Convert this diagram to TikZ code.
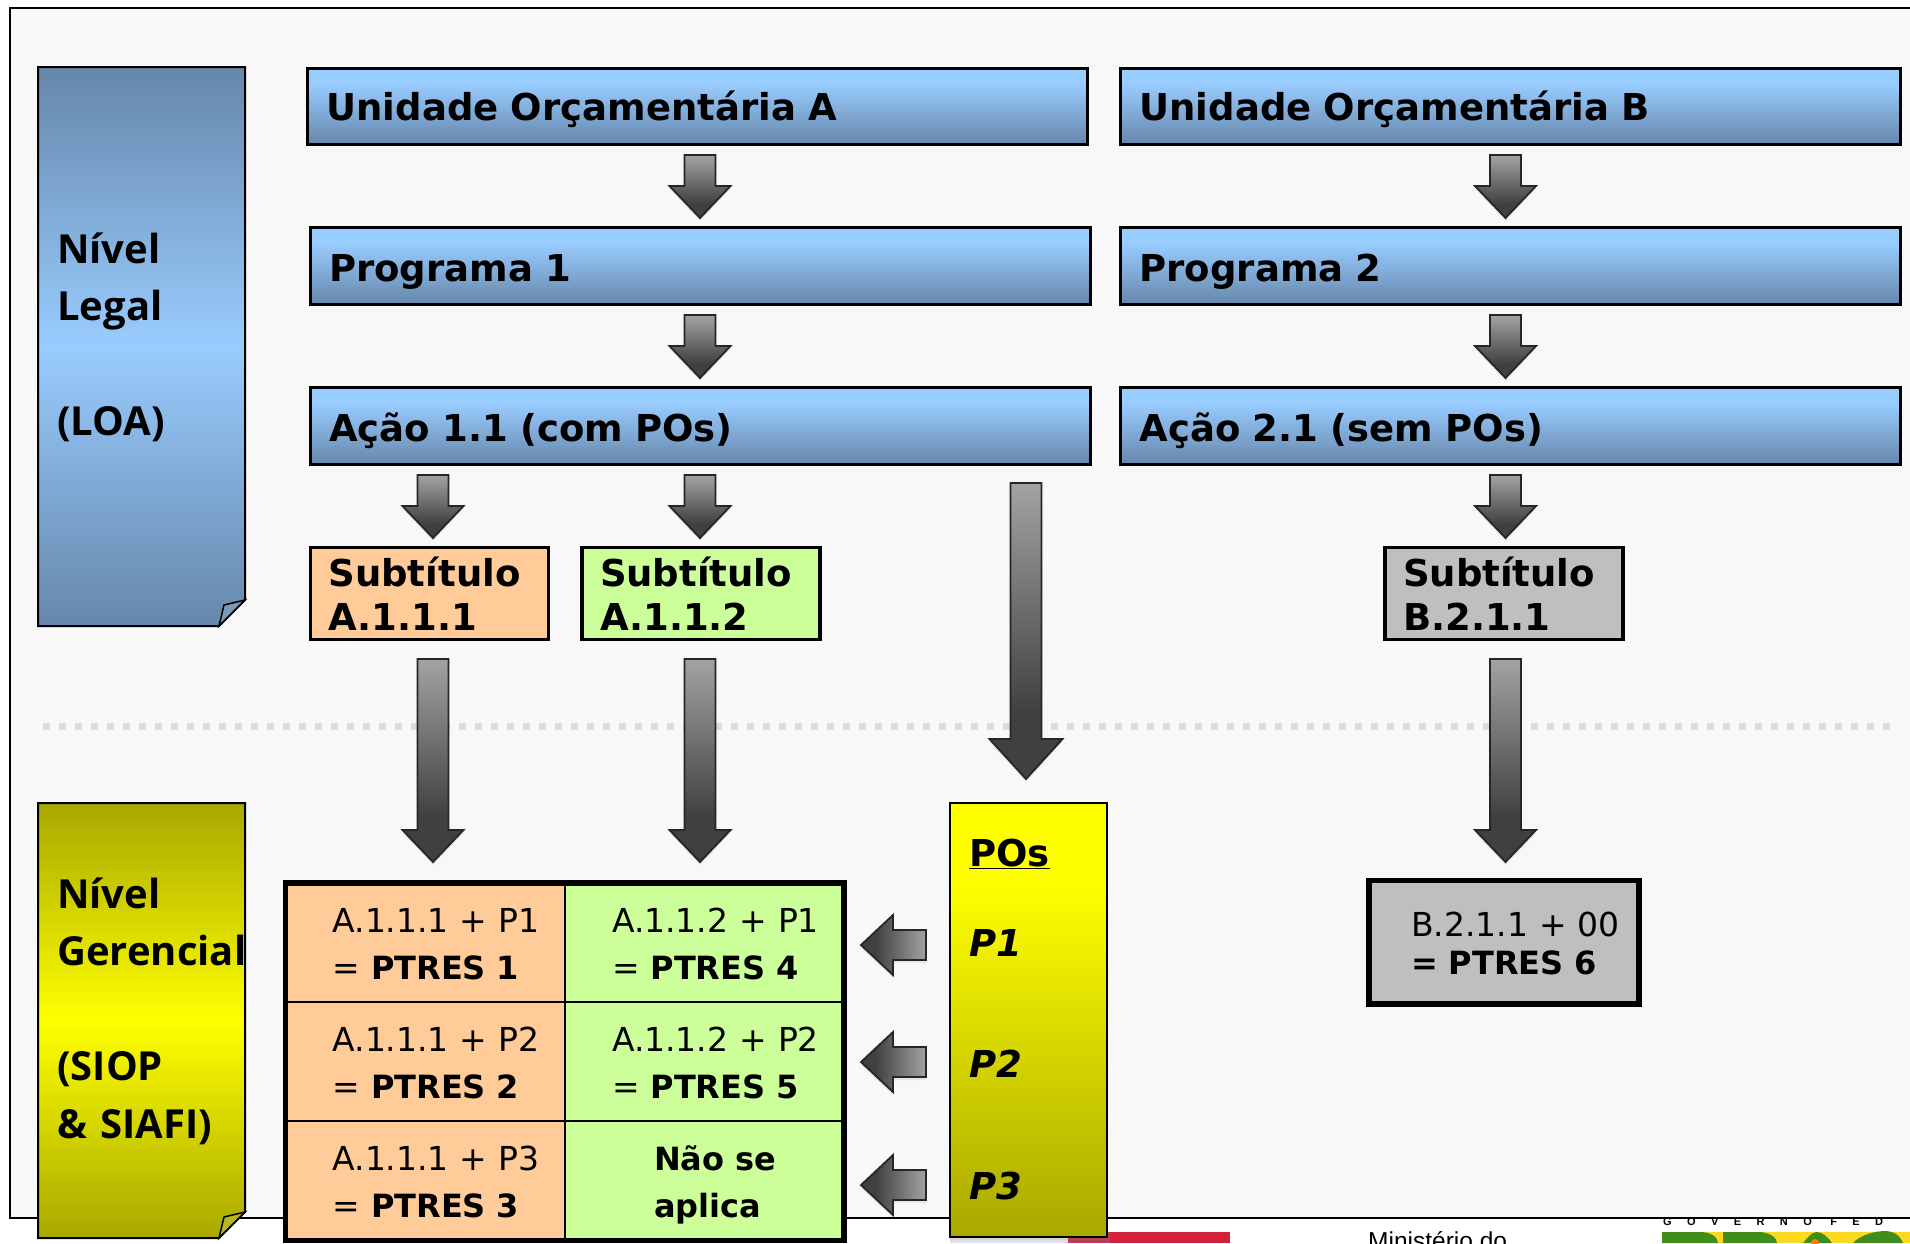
\documentclass[tikz,border=0pt]{standalone}
\usepackage{fontspec}
\setmainfont{DejaVu Sans}
\newfontfamily\notefont{Open Sans}
\newfontfamily\logofont{Liberation Sans}
\usetikzlibrary{calc, shadows}

\pgfdeclareverticalshading{boxfill}{100bp}{rgb(0bp)=(0.40,0.53,0.67);rgb(25bp)=(0.40,0.53,0.67);rgb(65bp)=(0.60,0.80,1);rgb(100bp)=(0.60,0.80,1)}
\pgfdeclareverticalshading{pofill}{100bp}{rgb(0bp)=(0.66,0.66,0);rgb(25bp)=(0.66,0.66,0);rgb(66bp)=(1,1,0);rgb(100bp)=(1,1,0)}
\pgfdeclareverticalshading{arrowfill}{100bp}{rgb(0bp)=(0.25,0.25,0.25);rgb(36bp)=(0.25,0.25,0.25);rgb(75bp)=(0.64,0.64,0.64);rgb(100bp)=(0.64,0.64,0.64)}

\definecolor{bluelight}{HTML}{99CCFF}
\definecolor{bluedark}{HTML}{6687AA}
\definecolor{olivedark}{HTML}{A8A800}
\definecolor{subsand}{HTML}{FFCC99}
\definecolor{subgreen}{HTML}{CCFF99}
\definecolor{subgrey}{HTML}{BFBFBF}
\definecolor{panelbg}{HTML}{F8F8F8}
\definecolor{dotgrey}{HTML}{DCDCDC}
\definecolor{logored}{HTML}{D2233B}
\definecolor{logogreen}{HTML}{3F8E1C}
\definecolor{logoyellow}{HTML}{FBD91E}

\newcommand{\ptres}[1]{{\fontsize{32}{38}\selectfont\bfseries #1}}

\tikzset{
  tbox/.style n args={4}{anchor=north west, outer sep=0pt, inner ysep=0pt, inner xsep=0pt,
    text width=#1, text height=#3, text depth=#2-#3,
    execute at begin node={\raggedright\leftskip=#4\relax}},
  bluebox/.style={draw=black, line width=3pt, shade, shading=boxfill,
    font=\fontsize{37}{44}\selectfont\bfseries},
  subbox/.style={draw=black, line width=3.5pt, font=\fontsize{37}{44.6}\selectfont\bfseries},
  cellbox/.style={draw=black, line width=2.5pt, font=\fontsize{33}{46.3}\selectfont},
  notelabel/.style={anchor=base west, inner sep=0pt, text width=200pt, align=left,
    font=\fontsize{40}{57.5}\selectfont\notefont\bfseries},
  polabel/.style={anchor=base west, inner sep=0pt, font=\fontsize{37}{44}\selectfont\bfseries\itshape},
  arrowbase/.style={draw=black!85, line width=1.8pt, shade, shading=arrowfill,
    drop shadow={shadow xshift=0pt, shadow yshift=-3pt, opacity=.14}},
  blockdown/.style n args={2}{arrowbase, to path={let \p1=(\tikztostart), \p2=(\tikztotarget) in
    (\x1-15.5pt,\y1) -- (\x1+15.5pt,\y1) -- (\x1+15.5pt,\y2+#2) -- (\x1+#1,\y2+#2) -- (\x2,\y2)
    -- (\x1-#1,\y2+#2) -- (\x1-15.5pt,\y2+#2) -- cycle}},
  blockleft/.style={arrowbase, shading angle=-90, to path={let \p1=(\tikztostart), \p2=(\tikztotarget) in
    (\x1,\y1+15pt) -- (\x1,\y1-15pt) -- (\x2+32pt,\y1-15pt) -- (\x2+32pt,\y1-30pt) -- (\x2,\y2)
    -- (\x2+32pt,\y1+30pt) -- (\x2+32pt,\y1+15pt) -- cycle}},
}

\begin{document}
\begin{tikzpicture}[x=1pt, y=-1pt]
  \useasboundingbox (0,0) rectangle (1910,1243);
  \clip (0,0) rectangle (1910,1243);

  % logos under the panel
  \fill[logored] (1068,1232) rectangle (1230,1243);
  \fill[logored!70!gray] (1068,1232) rectangle (1110,1243);
  \fill[black!12] (950,1238) rectangle (1068,1243);
  \node[anchor=base west, inner sep=0pt, font=\fontsize{24.5}{28}\selectfont\logofont] (minist) at (1368,1249) {Ministério do};
  \node[anchor=base west, inner sep=0pt, font=\fontsize{11}{13}\selectfont\logofont\bfseries\addfontfeature{LetterSpace=140}] (gov) at (1663,1225) {GOVERNO FED};
  \fill[logoyellow] (1662,1232) rectangle (1910,1243);
  \fill[logogreen] (1662,1232) -- (1700,1232) .. controls (1712,1232) and (1718,1238) .. (1718,1243) -- (1662,1243) -- cycle;
  \fill[logogreen] (1723,1232) -- (1758,1232) .. controls (1770,1232) and (1777,1238) .. (1777,1243) -- (1723,1243) -- cycle;
  \fill[logogreen] (1803,1243) .. controls (1808,1237) and (1812,1232) .. (1817,1232) .. controls (1822,1232) and (1828,1237) .. (1832,1243) -- cycle;
  \fill[orange] (1815,1243) circle (4);
  \fill[logogreen] (1853,1243) .. controls (1860,1235) and (1875,1231) .. (1885,1231) .. controls (1893,1231) and (1900,1235) .. (1903,1243) -- cycle;

  % panel
  \fill[panelbg] (10,8) rectangle (1910,1218);
  \coordinate (frameTR) at (1910,8);
  \coordinate (frameTL) at (10,8);
  \coordinate (frameBL) at (10,1218);
  \coordinate (frameBR) at (1910,1218);
  \draw[black, line width=2pt] (frameTR) -- (frameTL) -- (frameBL) -- (frameBR);

  \coordinate (dotL) at (43,726);
  \coordinate (dotR) at (1893,726);
  \draw[dotgrey, line width=7pt, dash pattern=on 7pt off 9pt] (dotL) -- (dotR);

  % side notes
  \draw[black, line width=2pt, top color=bluedark, bottom color=bluedark, middle color=bluelight]
    (38,67) -- (245,67) -- (245,600) -- (219,626) -- (38,626) -- cycle;
  \draw[black, line width=1.5pt, fill=bluedark!85!white] (219,626) -- (224,605) -- (245,600) -- cycle;
  \draw[black, line width=2pt, top color=olivedark, bottom color=olivedark, middle color=yellow]
    (38,803) -- (245,803) -- (245,1212) -- (219,1238) -- (38,1238) -- cycle;
  \draw[black, line width=1.5pt, fill=olivedark!85!white] (219,1238) -- (224,1217) -- (245,1212) -- cycle;
  \node[notelabel] (legal) at (57,263) {Nível\\Legal\\~\\(LOA)};
  \node[notelabel] (gerencial) at (57,908) {Nível\\Gerencial\\~\\(SIOP\\\&~SIAFI)};

  % top rows
  \node[bluebox, tbox={779.5pt}{76pt}{52pt}{19pt}] (unidA) at (307.5,68) {Unidade Orçamentária A};
  \node[bluebox, tbox={780pt}{76.5pt}{53.5pt}{19pt}] (prog1) at (310,227.5) {Programa 1};
  \node[bluebox, tbox={780pt}{76.5pt}{53.5pt}{19pt}] (acao1) at (310,387.5) {Ação 1.1 (com POs)};
  \node[bluebox, tbox={779.5pt}{76pt}{52pt}{19pt}] (unidB) at (1120.5,68) {Unidade Orçamentária B};
  \node[bluebox, tbox={779.5pt}{76.5pt}{53.5pt}{19pt}] (prog2) at (1120.5,227.5) {Programa 2};
  \node[bluebox, tbox={779.5pt}{76.5pt}{53.5pt}{19pt}] (acao2) at (1120.5,387.5) {Ação 2.1 (sem POs)};
  \node[subbox, fill=subsand, tbox={238pt}{92pt}{38.5pt}{18pt}] (subA1) at (310.5,547.5) {Subtítulo\\A.1.1.1};
  \node[subbox, fill=subgreen, tbox={238pt}{92pt}{38.5pt}{18pt}] (subA2) at (582,547.5) {Subtítulo\\A.1.1.2};
  \node[subbox, fill=subgrey, tbox={238pt}{92pt}{38.5pt}{18pt}] (subB1) at (1385,547.5) {Subtítulo\\B.2.1.1};

  % table of PTRES
  \node[cellbox, fill=subsand, tbox={279.5pt}{119pt}{49.7pt}{47pt}] (c11) at (285.5,883) {A.1.1.1 + P1\\= \ptres{PTRES 1}};
  \node[cellbox, fill=subgreen, tbox={279pt}{119pt}{49.7pt}{47pt}] (c12) at (565,883) {A.1.1.2 + P1\\= \ptres{PTRES 4}};
  \node[cellbox, fill=subsand, tbox={279.5pt}{119pt}{49.7pt}{47pt}] (c21) at (285.5,1002) {A.1.1.1 + P2\\= \ptres{PTRES 2}};
  \node[cellbox, fill=subgreen, tbox={279pt}{119pt}{49.7pt}{47pt}] (c22) at (565,1002) {A.1.1.2 + P2\\= \ptres{PTRES 5}};
  \node[cellbox, fill=subsand, tbox={279.5pt}{119.5pt}{49.7pt}{47pt}] (c31) at (285.5,1121) {A.1.1.1 + P3\\= \ptres{PTRES 3}};
  \node[cellbox, fill=subgreen, tbox={279pt}{119.5pt}{49.7pt}{89pt}] (c32) at (565,1121) {\ptres{Não se}\\\ptres{aplica}};
  \draw[black, line width=5.5pt] (c11.north west) rectangle (c32.south east);

  \node[cellbox, line width=5.5pt, fill=subgrey, tbox={270pt}{123.5pt}{55.5pt}{42pt}, font=\fontsize{33}{38}\selectfont] (c6) at (1369,880.5) {B.2.1.1 + 00\\\ptres{= PTRES 6}};

  % POs column
  \node[draw=black, line width=2.5pt, shade, shading=pofill, anchor=north west, outer sep=0pt, inner sep=0pt,
    minimum width=157pt, minimum height=434pt, drop shadow={shadow xshift=0pt, shadow yshift=-3pt, opacity=.12}] (pos) at (950,803) {};
  \node[polabel] (posT) at (969,866) {\normalfont\bfseries\underline{POs}};
  \node[polabel] (p1) at (969,956) {P1};
  \node[polabel] (p2) at (969,1077) {P2};
  \node[polabel] (p3) at (969,1199) {P3};

  % arrows
  \coordinate (a1) at (700,155);   \coordinate (a1t) at (700,218);
  \coordinate (a2) at (700,315);   \coordinate (a2t) at (700,378);
  \coordinate (a3) at (433,475);   \coordinate (a3t) at (433,538);
  \coordinate (a4) at (700,475);   \coordinate (a4t) at (700,538);
  \coordinate (b1) at (1505.5,155); \coordinate (b1t) at (1505.5,218);
  \coordinate (b2) at (1505.5,315); \coordinate (b2t) at (1505.5,378);
  \coordinate (b3) at (1505.5,475); \coordinate (b3t) at (1505.5,538);
  \coordinate (a5) at (433,659);   \coordinate (a5t) at (433,862);
  \coordinate (a6) at (700,659);   \coordinate (a6t) at (700,862);
  \coordinate (b4) at (1505.5,659); \coordinate (b4t) at (1505.5,862);
  \coordinate (po) at (1026,483);  \coordinate (pot) at (1026,779);
  \coordinate (l1) at (926,945);   \coordinate (l1t) at (861,945);
  \coordinate (l2) at (926,1062);  \coordinate (l2t) at (861,1062);
  \coordinate (l3) at (926,1185);  \coordinate (l3t) at (861,1185);
  \draw[blockdown={30.5pt}{32pt}] (a1) to (a1t);
  \draw[blockdown={30.5pt}{32pt}] (a2) to (a2t);
  \draw[blockdown={30.5pt}{32pt}] (a3) to (a3t);
  \draw[blockdown={30.5pt}{32pt}] (a4) to (a4t);
  \draw[blockdown={30.5pt}{32pt}] (b1) to (b1t);
  \draw[blockdown={30.5pt}{32pt}] (b2) to (b2t);
  \draw[blockdown={30.5pt}{32pt}] (b3) to (b3t);
  \draw[blockdown={30.5pt}{32pt}] (a5) to (a5t);
  \draw[blockdown={30.5pt}{32pt}] (a6) to (a6t);
  \draw[blockdown={30.5pt}{32pt}] (b4) to (b4t);
  \draw[blockdown={36.5pt}{40pt}] (po) to (pot);
  \draw[blockleft] (l1) to (l1t);
  \draw[blockleft] (l2) to (l2t);
  \draw[blockleft] (l3) to (l3t);
\end{tikzpicture}
\end{document}
